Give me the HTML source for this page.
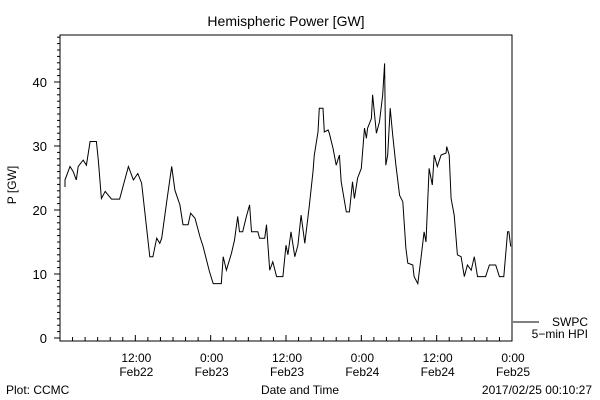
<!DOCTYPE html>
<html><head><meta charset="utf-8"><style>
html,body{margin:0;padding:0;background:#fff;}
svg{display:block;font-family:"Liberation Sans",sans-serif;}
</style></head><body>
<svg id="chart" width="600" height="400" viewBox="0 0 600 400">
<text x="286" y="26" text-anchor="middle" font-size="14">Hemispheric Power [GW]</text>
<text x="0" y="0" transform="translate(16,185) rotate(-90)" text-anchor="middle" font-size="12">P [GW]</text>
<rect x="60" y="35" width="452" height="306" fill="none" stroke="#000" stroke-width="1"/>
<g id="yaxis"></g>
<g id="xaxis"></g>
<polyline id="series" fill="none" stroke="#000" stroke-width="1"/>
<line x1="513" y1="322" x2="539" y2="322" stroke="#000"/>
<text x="588" y="326" text-anchor="end" font-size="12">SWPC</text>
<text x="588" y="338" text-anchor="end" font-size="12">5−min HPI</text>
<text x="300" y="394" text-anchor="middle" font-size="12">Date and Time</text>
<text x="6" y="394" font-size="12">Plot: CCMC</text>
<text x="592" y="394" text-anchor="end" font-size="12">2017/02/25 00:10:27</text>
</svg>
<script>
const hours=[0.8,0.8,1.6,2.1,2.6,2.9,3.7,4.2,4.8,5.8,6.1,6.6,7.2,8.2,9.5,10.1,10.9,11.7,12.4,13,14.3,14.8,15.4,15.9,16.2,17,17.8,18.3,19.1,19.6,20.4,20.8,21.5,22.3,22.8,23.8,24.4,25.7,26,26.5,27.3,27.8,28.3,28.6,29.1,29.7,30.2,30.5,31.5,31.8,32.6,32.9,33.4,33.9,34.5,35.5,36,36.3,36.8,37.4,37.9,38.4,39,39.7,40.3,40.5,41.1,41.3,41.9,42.1,42.7,42.9,43.5,44,44.5,44.8,45.6,46.1,46.6,46.9,47.4,48,48.5,48.8,49,49.6,49.8,50.4,50.9,51.4,51.7,51.9,52.2,52.6,53,53.5,54.1,54.6,55.1,55.4,56.2,56.4,57,57.5,58,58.3,58.8,59.3,59.6,60.1,60.7,61.5,61.6,62,62.3,62.8,63.3,63.9,64.4,64.9,65.5,66,66.5,66.8,67.8,68.4,69.4,70,70.7,71.3,71.5,71.8];
const power=[23.6,24.7,26.8,26,24.7,26.8,27.8,27,30.7,30.7,27.8,21.8,22.9,21.7,21.7,23.9,26.8,24.7,25.7,24.2,12.7,12.7,15.6,14.8,15.6,21.3,26.8,23.1,20.8,17.7,17.7,19.5,18.7,15.8,14.3,10.4,8.5,8.5,12.7,10.6,13.2,15.3,19,16.6,16.6,19,20.8,16.6,16.6,15.6,15.6,17.7,10.6,11.9,9.6,9.6,14.5,13,16.6,12.7,14.5,19.2,14.8,20.5,26,28.6,32.2,35.9,35.9,32.2,32.5,32,29.6,27,28.6,24.4,19.7,19.7,24.4,21.8,25,26.5,32.8,31.2,32.8,34.3,38,32,33.8,38,42.9,27,28.6,35.9,31.7,27,22.3,21.3,14,11.7,11.4,9.6,8.5,12.5,16.6,15,26.5,23.9,28.6,26.8,28.6,28.9,29.9,28.6,21.8,19.2,13,12.7,9.6,11.4,10.6,12.7,9.6,9.6,9.6,11.4,11.4,9.6,9.6,16.6,16.6,14.3];
const yTicks=[0,10,20,30,40];
const xTickHours=[12,24,36,48,60,72];
const xTickLabels=[["12:00","Feb22"],["0:00","Feb23"],["12:00","Feb23"],["0:00","Feb24"],["12:00","Feb24"],["0:00","Feb25"]];
const NS="http://www.w3.org/2000/svg";
function xs(h){return 60+h*(452/72);}
function ys(v){return 338-v*6.4;}
function mk(t,a){const e=document.createElementNS(NS,t);for(const k in a)e.setAttribute(k,a[k]);return e;}
const ya=document.getElementById('yaxis');
for(let v=0;v<=47;v++){
  const l=mk('line',{x1:v%10===0?54:57,x2:60,y1:ys(v),y2:ys(v),stroke:'#000'});
  
  
  ya.appendChild(l);
}
yTicks.forEach(v=>{
  const t=mk('text',{x:47,y:ys(v)+5,'text-anchor':'end','font-size':13});
  
  
  t.textContent=v;ya.appendChild(t);
});
const xa=document.getElementById('xaxis');
for(let h=2;h<=72;h+=2){
  const l=mk('line',{x1:xs(h),x2:xs(h),y1:341,y2:h%12===0?335:337,stroke:'#000'});
  
  
  xa.appendChild(l);
}
xTickHours.forEach((h,i)=>{
  xTickLabels[i].forEach((s,j)=>{
    const t=mk('text',{x:xs(h)+1,y:362+j*14,'text-anchor':'middle','font-size':12});
    
    
    t.textContent=s;xa.appendChild(t);
  });
});
document.getElementById('series').setAttribute('points',hours.map((h,i)=>xs(h).toFixed(1)+','+ys(power[i]).toFixed(1)).join(' '));
</script>
</body></html>
